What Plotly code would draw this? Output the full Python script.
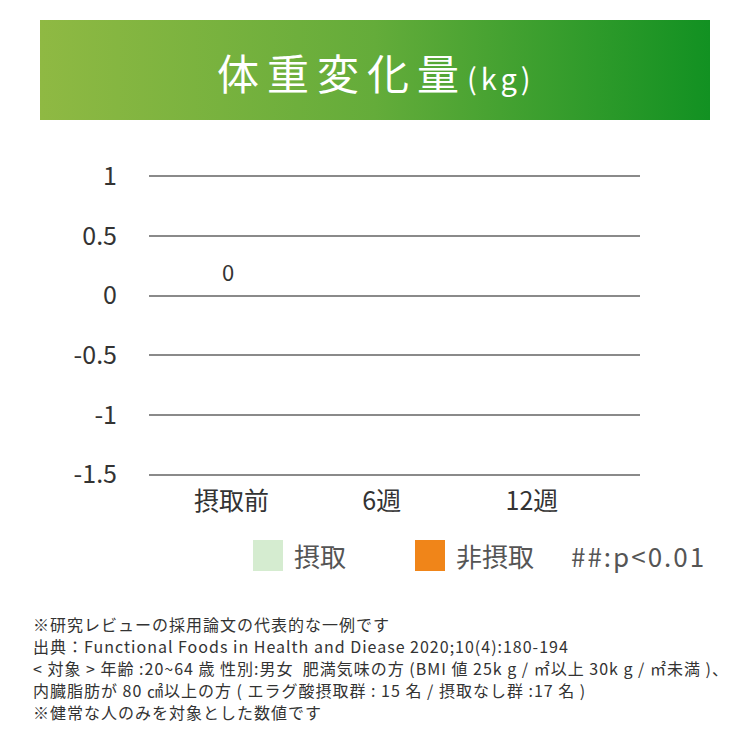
import plotly.graph_objects as go

# data
categories = ['摂取前', '6週', '12週']
intake = [0, None, None]
no_intake = [0, None, None]
intake_labels = ['0', '', '']
y_ticks = [1, 0.5, 0, -0.5, -1, -1.5]
y_ticklabels = ['1', '0.5', '0', '-0.5', '-1', '-1.5']
legend_names = ['摂取', '非摂取']
sig_note = '##:p<0.01'
notes = [
    '※研究レビューの採用論文の代表的な一例です',
    '出典：Functional Foods in Health and Diease 2020;10(4):180-194',
    '< 対象 > 年齢 :20~64 歳 性別:男女  肥満気味の方 (BMI 値 25k g / ㎡以上 30k g / ㎡未満 )、',
    '内臓脂肪が 80 ㎠以上の方 ( エラグ酸摂取群 : 15 名 / 摂取なし群 :17 名 )',
    '※健常な人のみを対象とした数値です',
]

W, H = 750, 750
OFF = 8  # page offset of the plot in the browser
L, R, T, B = 141, 632, 166, 469
FONT = 'Noto Sans CJK JP'


# helpers: positions given in screenshot pixels -> paper coords
def px(x):
    return (x - OFF - L) / (R - L)


def py(y):
    return (B - (y - OFF)) / (B - T)


fig = go.Figure()
fig.add_trace(go.Bar(x=categories, y=intake, name=legend_names[0],
                     marker=dict(color='#d5ecd0', line_width=0), showlegend=False))
fig.add_trace(go.Bar(x=categories, y=no_intake, name=legend_names[1],
                     marker=dict(color='#f08519', line_width=0), showlegend=False))

# header banner with gradient
svg = ("data:image/svg+xml;utf8,<svg xmlns='http://www.w3.org/2000/svg' width='670' height='100'>"
       "<defs><linearGradient id='g' x1='0' x2='1' y1='0' y2='0'>"
       "<stop offset='0' stop-color='%238fb943'/><stop offset='0.5' stop-color='%2364ac3a'/>"
       "<stop offset='1' stop-color='%23129122'/></linearGradient></defs>"
       "<rect width='670' height='100' fill='url(%23g)'/></svg>")
fig.add_layout_image(dict(source=svg, xref='paper', yref='paper',
                          x=px(40), y=py(20), sizex=670 / (R - L), sizey=100 / (B - T),
                          xanchor='left', yanchor='top', sizing='stretch', layer='below'))

title = ("<span style='letter-spacing:8px'>体重変化量</span>"
         "<span style='font-size:29px;letter-spacing:4px'>(kg)</span>")
annotations = [dict(text=title, x=px(376), y=py(71), xref='paper', yref='paper',
                    xanchor='center', yanchor='middle', showarrow=False,
                    font=dict(family=FONT, size=42, color='white'))]

# value labels above bars
for c, v, t in zip(categories, intake, intake_labels):
    if v is not None and t:
        annotations.append(dict(text=t, x=c, y=v, xref='x', yref='y', showarrow=False,
                                xshift=-4, yshift=25,
                                font=dict(family=FONT, size=22, color='#333333')))

# custom legend
shapes = []
leg = [(253, legend_names[0], '#d5ecd0'), (415, legend_names[1], '#f08519')]
for x0, name, col in leg:
    shapes.append(dict(type='rect', xref='paper', yref='paper', line_width=0, fillcolor=col,
                       x0=px(x0), x1=px(x0 + 30), y0=py(571), y1=py(540)))
    annotations.append(dict(text=name, x=px(x0 + 39), y=py(555), xref='paper', yref='paper',
                            xanchor='left', yanchor='middle', showarrow=False,
                            font=dict(family=FONT, size=26, color='#555555')))
annotations.append(dict(text="<span style='letter-spacing:2px'>" + sig_note + "</span>",
                        x=px(708), y=py(555), xref='paper', yref='paper',
                        xanchor='right', yanchor='middle', showarrow=False,
                        font=dict(family=FONT, size=26, color='#555555')))

for i, line in enumerate(notes):
    annotations.append(dict(text="<span style='letter-spacing:1px'>" + line + "</span>",
                            x=px(31), y=py(624 + i * 22), xref='paper', yref='paper',
                            xanchor='left', yanchor='middle', showarrow=False,
                            font=dict(family=FONT, size=16, color='#333333')))

fig.update_layout(
    width=W, height=H,
    margin=dict(l=L, r=W - R, t=T, b=H - B, pad=0),
    paper_bgcolor='white', plot_bgcolor='white',
    barmode='group', bargap=0.45,
    font=dict(family=FONT, color='#333333'),
    xaxis=dict(type='category', range=[-0.55, 2.72], showgrid=False, showline=False,
               ticks='', ticklabelstandoff=7, tickfont=dict(size=25, color='#333333')),
    yaxis=dict(range=[-1.52, 1.02], tickvals=y_ticks, ticktext=y_ticklabels,
               showgrid=True, gridcolor='#8a8a8a', gridwidth=2, zeroline=False,
               showline=False, ticks='', ticklabelstandoff=31,
               tickfont=dict(size=25, color='#333333')),
    shapes=shapes, annotations=annotations,
)

fig.write_html('out.html')
